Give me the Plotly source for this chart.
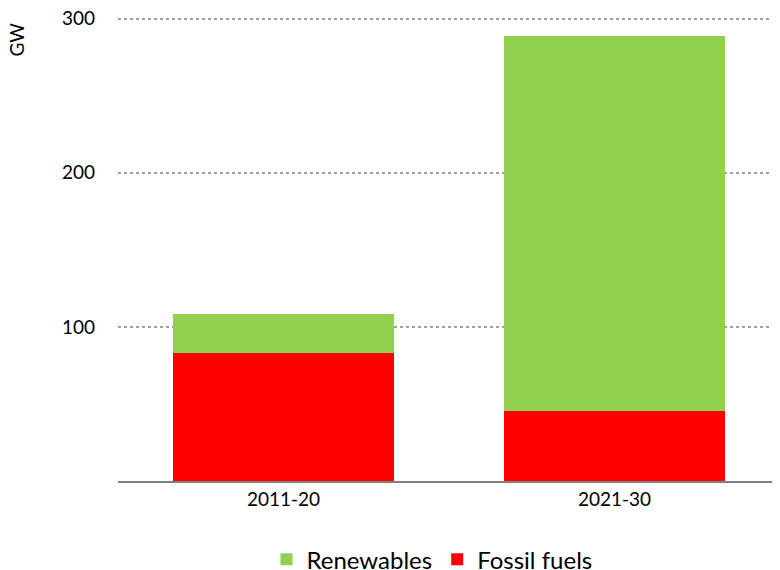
import plotly.graph_objects as go

categories = ["2011-20", "2021-30"]
fossil = [83.1, 45.7]
renewables = [25.1, 242.8]

FONT = "Lato"
OFF = 8  # page body margin offset
W, H = 780 - OFF, 570 - OFF
L, R, T, B = 118 - OFF, 0, 19 - OFF - 1.5415, H - (481.45 - OFF)
PW, PH = W - L - R, H - T - B

fig = go.Figure()
fig.add_trace(go.Bar(x=categories, y=fossil, name="Fossil fuels", marker_color="#FF0000",
                     width=0.67, marker_line_width=0))
fig.add_trace(go.Bar(x=categories, y=renewables, name="Renewables", marker_color="#92D050",
                     width=0.67, marker_line_width=0))

fig.update_layout(
    barmode="stack",
    width=W, height=H,
    margin=dict(l=L, r=R, t=T, b=B, autoexpand=False),
    plot_bgcolor="white", paper_bgcolor="white",
    font=dict(family=FONT, size=16, color="#000000"),
    showlegend=True,
    legend=dict(orientation="h", x=(432 - OFF - L) / PW, xanchor="center",
                y=-(560 - OFF - (H - B)) / PH, yanchor="middle",
                traceorder="reversed", font=dict(size=24, family=FONT),
                itemwidth=30),
    xaxis=dict(showline=True, linecolor="#7F7F7F", linewidth=1.5, ticks="",
               range=[-0.5, 1.5], tickfont=dict(size=19)),
    yaxis=dict(range=[0, 301], tickvals=[100, 200, 300], showgrid=True,
               gridcolor="#A0A0A0", griddash="dot", gridwidth=1.5, zeroline=False,
               ticks="", ticklabelstandoff=22, ticklabeloverflow="allow",
               tickfont=dict(size=19)),
    annotations=[dict(text="GW", textangle=-90, x=(17 - OFF - L) / PW, xanchor="center",
                      y=1 - (40 - OFF - T) / PH, yanchor="middle",
                      xref="paper", yref="paper", showarrow=False,
                      font=dict(size=19))],
)
fig.write_html("out.html")
